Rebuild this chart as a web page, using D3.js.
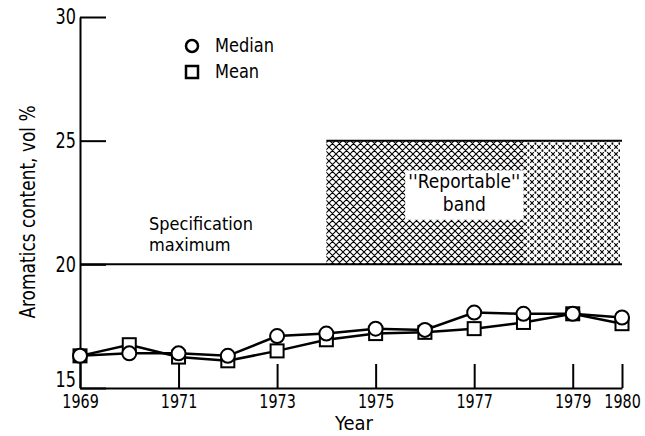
<!DOCTYPE html>
<html>
<head>
<meta charset="utf-8">
<script src="https://cdn.jsdelivr.net/npm/d3@7"></script>
<style>
  body { margin: 0; background: #fff; }
  svg text { font-family: "DejaVu Sans Condensed", "DejaVu Sans", sans-serif; font-stretch: condensed; fill: #000; }
</style>
</head>
<body>
<div id="chart"></div>
<script>
// values
const years = [1969, 1970, 1971, 1972, 1973, 1974, 1975, 1976, 1977, 1978, 1979, 1980];
const medianVals = [16.3, 16.4, 16.4, 16.3, 17.1, 17.2, 17.4, 17.35, 18.05, 18.0, 18.0, 17.85];
const meanVals = [16.3, 16.75, 16.25, 16.1, 16.5, 16.95, 17.2, 17.25, 17.4, 17.65, 18.0, 17.6];
const yTicks = [15, 20, 25, 30];
const xTicks = [1969, 1971, 1973, 1975, 1977, 1979, 1980];
const specMax = 20;
const band = { from: 1974, to: 1980, low: 20, high: 25 };

const width = 645, height = 436;

const x = d3.scaleLinear().domain([1969, 1980]).range([80, 622]);
const y = d3.scaleLinear().domain([15, 30]).range([388, 17]);

const svg = d3.select("#chart").append("svg")
  .attr("width", width)
  .attr("height", height);

// squeeze DejaVu a bit so it looks like the narrow typeface of the original
function narrow(sel, f) {
  sel.each(function() {
    const w = this.getComputedTextLength();
    d3.select(this).attr("textLength", w * f).attr("lengthAdjust", "spacingAndGlyphs");
  });
}

/** hatch patterns for the reportable band */
const defs = svg.append("defs");
const dense = defs.append("pattern")
  .attr("id", "hatch")
  .attr("patternUnits", "userSpaceOnUse")
  .attr("width", 7).attr("height", 7);
dense.append("path")
  .attr("d", "M0,0L7,7M7,0L0,7M-1,6L1,8M6,-1L8,1M-1,1L1,-1M6,8L8,6")
  .attr("stroke", "#000").attr("stroke-width", 1.1);
const light = defs.append("pattern")
  .attr("id", "hatch-light")
  .attr("patternUnits", "userSpaceOnUse")
  .attr("width", 7).attr("height", 7);
light.append("path")
  .attr("d", "M0,0L7,7M7,0L0,7")
  .attr("stroke", "#000").attr("stroke-width", 1.1)
  .attr("stroke-dasharray", "2.5,1.2");

const bandSplit = 1978;
svg.append("rect")
  .attr("x", x(band.from)).attr("y", y(band.high))
  .attr("width", x(bandSplit) - x(band.from))
  .attr("height", y(band.low) - y(band.high))
  .attr("fill", "url(#hatch)");
svg.append("rect")
  .attr("x", x(bandSplit)).attr("y", y(band.high))
  .attr("width", x(band.to) - x(bandSplit) - 2)
  .attr("height", y(band.low) - y(band.high))
  .attr("fill", "url(#hatch-light)");

// band top line
svg.append("line")
  .attr("x1", x(band.from)).attr("x2", x(band.to))
  .attr("y1", y(band.high)).attr("y2", y(band.high))
  .attr("stroke", "#000").attr("stroke-width", 2);

// specification maximum line
svg.append("line")
  .attr("x1", x(1969)).attr("x2", x(band.to))
  .attr("y1", y(specMax)).attr("y2", y(specMax))
  .attr("stroke", "#000").attr("stroke-width", 2);

// white label box
svg.append("rect")
  .attr("x", x(1975.6)).attr("y", y(23.8))
  .attr("width", x(1978) - x(1975.6))
  .attr("height", y(21.8) - y(23.8))
  .attr("fill", "#fff");
const bandLabel = svg.append("text")
  .attr("text-anchor", "middle")
  .style("font-size", "19px");
bandLabel.append("tspan").attr("x", x(1976.8)).attr("y", 188).text("''Reportable''");
bandLabel.append("tspan").attr("x", x(1976.8)).attr("y", 211).text("band");

const spec = svg.append("text").style("font-size", "18px");
spec.append("tspan").attr("x", 149).attr("y", 230).text("Specification");
spec.append("tspan").attr("x", 149).attr("y", 251).text("maximum");

/** axes */
const yAxis = d3.axisLeft(y)
  .tickValues(yTicks)
  .tickSize(-26)
  .tickSizeOuter(0)
  .tickPadding(4);
const gy = svg.append("g")
  .attr("transform", "translate(" + x(1969) + ",0)")
  .call(yAxis);
gy.selectAll("text").style("font-size", "21px").call(narrow, 0.85);
gy.selectAll(".tick").filter(d => d === 15).select("text").attr("dy", "-0.05em");

const xAxis = d3.axisBottom(x)
  .tickValues(xTicks)
  .tickSize(-24)
  .tickSizeOuter(0)
  .tickPadding(7)
  .tickFormat(d3.format("d"));
const gx = svg.append("g")
  .attr("transform", "translate(0," + y(15) + ")")
  .call(xAxis);
// labels sit at x=0 inside each tick, so a horizontal scale keeps them centred
gx.selectAll("text").style("font-size", "19px").attr("transform", "scale(0.84,1)");

svg.selectAll(".domain, .tick line")
  .attr("stroke", "#000")
  .attr("stroke-width", 2);

const yLabel = svg.append("text")
  .attr("transform", "translate(35," + 212 + ") rotate(-90)")
  .attr("text-anchor", "middle")
  .style("font-size", "21px")
  .text("Aromatics content, vol %");
narrow(yLabel, 0.9);

svg.append("text")
  .attr("x", 354).attr("y", 430)
  .attr("text-anchor", "middle")
  .style("font-size", "20px")
  .text("Year");

/** series */
const line = d3.line()
  .x((d, i) => x(years[i]))
  .y(d => y(d));

[meanVals, medianVals].forEach(vals => {
  svg.append("path")
    .datum(vals)
    .attr("d", line)
    .attr("fill", "none")
    .attr("stroke", "#000")
    .attr("stroke-width", 2.5);
});

const sq = 13;
svg.append("g").selectAll("rect")
  .data(meanVals)
  .join("rect")
  .attr("x", (d, i) => x(years[i]) - sq / 2)
  .attr("y", d => y(d) - sq / 2)
  .attr("width", sq).attr("height", sq)
  .attr("fill", "#fff").attr("stroke", "#000").attr("stroke-width", 2);

svg.append("g").selectAll("circle")
  .data(medianVals)
  .join("circle")
  .attr("cx", (d, i) => x(years[i]))
  .attr("cy", d => y(d))
  .attr("r", 7)
  .attr("fill", "#fff").attr("stroke", "#000").attr("stroke-width", 2);

/** legend */
const legend = svg.append("g").attr("transform", "translate(192,46)");
legend.append("circle").attr("r", 6).attr("fill", "#fff")
  .attr("stroke", "#000").attr("stroke-width", 2.5);
legend.append("text").attr("x", 23).attr("y", 6).style("font-size", "20px").text("Median").call(narrow, 0.9);
legend.append("rect").attr("x", -6).attr("y", 20).attr("width", 12).attr("height", 12)
  .attr("fill", "#fff").attr("stroke", "#000").attr("stroke-width", 2.5);
legend.append("text").attr("x", 23).attr("y", 32).style("font-size", "20px").text("Mean").call(narrow, 0.9);
</script>
</body>
</html>
